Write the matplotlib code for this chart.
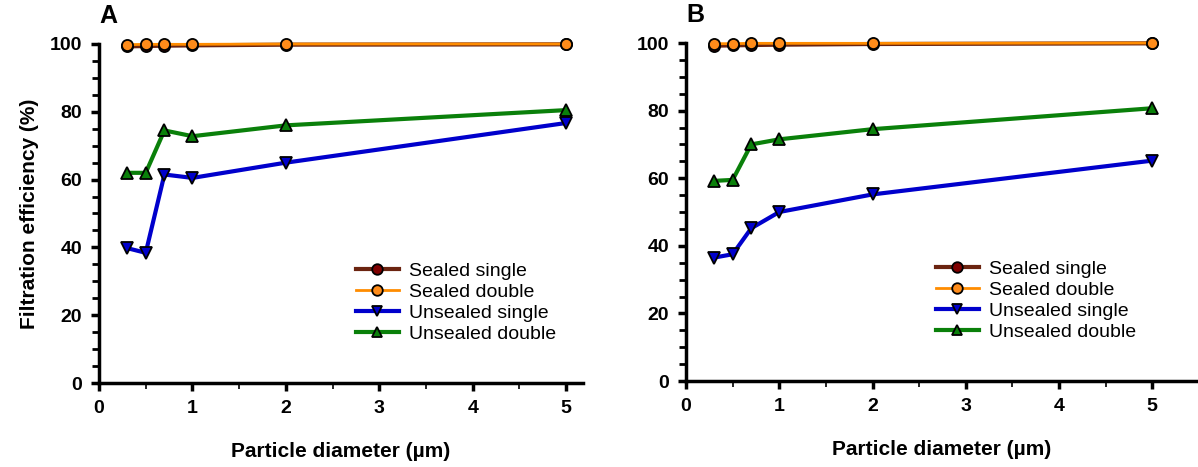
import matplotlib
matplotlib.use("Agg")
from matplotlib import pyplot as plt
from matplotlib.ticker import MultipleLocator

plt.rcParams['font.family'] = ['Liberation Sans', 'DejaVu Sans']

# particle sizes (um)
diam = [0.3, 0.5, 0.7, 1, 2, 5]

# panel A
a_sealed_single = [99.3, 99.4, 99.5, 99.6, 99.8, 99.9]
a_sealed_double = [99.8, 99.9, 99.9, 99.9, 100.0, 100.0]
a_unsealed_single = [39.8, 38.4, 61.5, 60.5, 65.0, 76.7]
a_unsealed_double = [62.0, 62.0, 74.5, 72.8, 76.0, 80.5]

# panel B
b_sealed_single = [99.2, 99.3, 99.4, 99.5, 99.7, 99.9]
b_sealed_double = [99.8, 99.8, 99.9, 99.9, 99.9, 100.0]
b_unsealed_single = [36.5, 37.5, 45.2, 50.0, 55.2, 65.2]
b_unsealed_double = [59.2, 59.5, 70.0, 71.5, 74.5, 80.7]

series_names = ["Sealed single", "Sealed double", "Unsealed single", "Unsealed double"]
line_cols = ["#6b2410", "#ff8c00", "#0000cc", "#0a800a"]
face_cols = ["#7f0000", "#ff8c1a", "#0000cc", "#0a800a"]
markers = ["o", "o", "v", "^"]
widths = [3, 2, 3, 3]

fig = plt.figure(figsize=(11.98, 4.67), dpi=100)
W, H = 1198, 467
axA = fig.add_axes([99 / W, 1 - 383 / H, (583 - 99) / W, (383 - 44) / H])
axB = fig.add_axes([686 / W, 1 - 381 / H, (1198 - 686) / W, (381 - 43) / H])

panels = [
    (axA, "A", 5.18, [a_sealed_single, a_sealed_double, a_unsealed_single, a_unsealed_double], (356 / W, 1 - 343 / H)),
    (axB, "B", 5.49, [b_sealed_single, b_sealed_double, b_unsealed_single, b_unsealed_double], (936 / W, 1 - 341 / H)),
]

for ax, tag, xmax, data, leg_pos in panels:
    for vals, name, lc, fc, m, lw in zip(data, series_names, line_cols, face_cols, markers, widths):
        ax.plot(diam, vals, color=lc, lw=lw, marker=m, ms=8, mfc=fc, mec="black",
                mew=1.3, label=name, clip_on=False, zorder=3)
    ax.set_xlim(0, xmax)
    ax.set_ylim(0, 100)
    ax.xaxis.set_major_locator(MultipleLocator(1))
    ax.xaxis.set_minor_locator(MultipleLocator(0.5))
    ax.yaxis.set_major_locator(MultipleLocator(20))
    ax.yaxis.set_minor_locator(MultipleLocator(5))
    for s in ["top", "right"]:
        ax.spines[s].set_visible(False)
    for s in ["left", "bottom"]:
        ax.spines[s].set_linewidth(2.5)
    ax.tick_params(which="major", direction="out", length=6, width=2.5, labelsize=14, pad=6)
    ax.tick_params(axis="x", which="minor", direction="out", length=4, width=1.2)
    ax.tick_params(axis="y", which="minor", direction="out", length=5, width=2)
    for lab in ax.get_xticklabels() + ax.get_yticklabels():
        lab.set_fontweight("bold")
    ax.set_xlabel("Particle diameter (µm)", fontsize=15, fontweight="bold", labelpad=18)
    ax.text(0.0, 1.048, tag, transform=ax.transAxes, fontsize=18, fontweight="bold",
            ha="left", va="bottom")
    ax.legend(loc="lower left", bbox_to_anchor=leg_pos, bbox_transform=fig.transFigure,
              frameon=False, fontsize=14, handlelength=2.2, labelspacing=0.18,
              borderaxespad=0, handletextpad=0.55, borderpad=0, markerscale=0.95)

axA.set_ylabel("Filtration efficiency (%)", fontsize=15, fontweight="bold", labelpad=8)

fig.savefig("out.png", dpi=100)
